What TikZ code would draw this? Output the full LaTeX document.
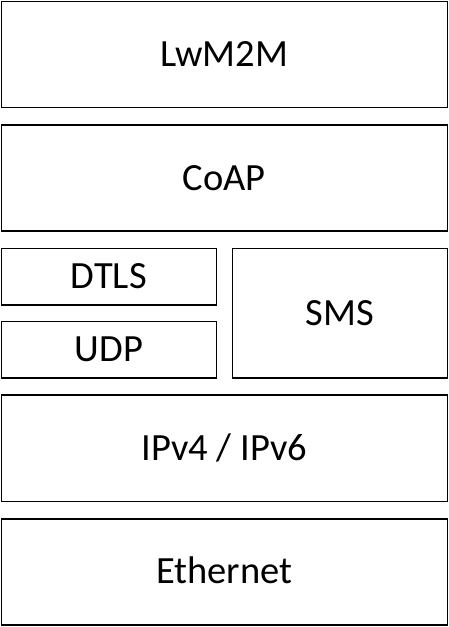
\documentclass[tikz,border=0pt]{standalone}
\usepackage{fontspec}
\setmainfont{Carlito}
\begin{document}
\begin{tikzpicture}[x=1pt,y=-1pt,
  layer/.style={draw=black,line width=1.3pt,fill=white},
  lbl/.style={anchor=base,inner sep=0pt,font=\fontsize{38.5}{40}\selectfont}]
\useasboundingbox (0,0) rectangle (449,627);
\draw[layer] (1.3,1.3) rectangle (447.3,107.5);
\draw[layer] (1.3,125) rectangle (447.3,231);
\draw[layer] (1.3,248.3) rectangle (216.3,305);
\draw[layer] (1.3,321.7) rectangle (216.3,378);
\draw[layer] (232.3,248.3) rectangle (447.3,378);
\draw[layer] (1.3,395) rectangle (447.3,501.5);
\draw[layer] (1.3,519) rectangle (447.3,625);
\node[lbl] (lwm2m) at (224.3,66.7) {LwM2M};
\node[lbl] (coap) at (224.3,190.5) {CoAP};
\node[lbl] (dtls) at (108.8,288.3) {DTLS};
\node[lbl] (udp) at (108.8,361) {UDP};
\node[lbl] (sms) at (339.8,325.5) {SMS};
\node[lbl] (ip) at (224.3,460.5) {IPv4 / IPv6};
\node[lbl] (eth) at (224.3,583) {Ethernet};
\end{tikzpicture}
\end{document}
